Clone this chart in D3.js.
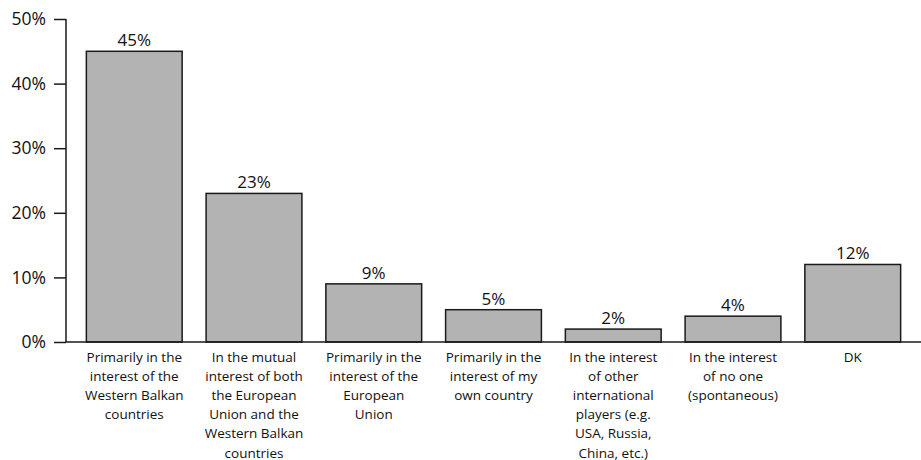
<!DOCTYPE html>
<html>
<head>
<meta charset="utf-8">
<script src="https://cdn.jsdelivr.net/npm/d3@7"></script>
<style>
  body { margin: 0; background: #fff; }
  svg { display: block; font-family: "Open Sans", sans-serif; }
</style>
</head>
<body>
<div id="chart"></div>
<script>
// Data
var categories = [
  ["Primarily in the", "interest of the", "Western Balkan", "countries"],
  ["In the mutual", "interest of both", "the European", "Union and the", "Western Balkan", "countries"],
  ["Primarily in the", "interest of the", "European", "Union"],
  ["Primarily in the", "interest of my", "own country"],
  ["In the interest", "of other", "international", "players (e.g.", "USA, Russia,", "China, etc.)"],
  ["In the interest", "of no one", "(spontaneous)"],
  ["DK"]
];
var values = [45, 23, 9, 5, 2, 4, 12];
var yTicks = [0, 10, 20, 30, 40, 50];

var W = 921, H = 460;
var x0 = 66, x1 = 921, yTop = 19, yBase = 342;

var svg = d3.select("#chart").append("svg")
    .attr("width", W)
    .attr("height", H);

var idx = values.map(function(d, i) { return i; });

var x = d3.scaleBand()
    .domain(idx)
    .range([x0, x1])
    .paddingInner(0.2)
    .paddingOuter(0.17);

var y = d3.scaleLinear()
    .domain([0, 50])
    .range([yBase, yTop]);

// Bars
svg.selectAll(".bar")
    .data(values)
  .enter().append("rect")
    .attr("class", "bar")
    .attr("x", function(d, i) { return x(i); })
    .attr("width", x.bandwidth())
    .attr("y", function(d) { return y(d); })
    .attr("height", function(d) { return yBase - y(d); })
    .attr("fill", "#b3b3b3")
    .attr("stroke", "#1a1a1a")
    .attr("stroke-width", 1.5);

// Value labels
svg.selectAll(".val")
    .data(values)
  .enter().append("text")
    .attr("class", "val")
    .attr("x", function(d, i) { return x(i) + x.bandwidth() / 2; })
    .attr("y", function(d) { return y(d) - 5; })
    .attr("text-anchor", "middle")
    .attr("font-size", 17)
    .attr("fill", "#111")
    .text(function(d) { return d + "%"; });

// y axis
var yAxis = d3.axisLeft(y)
    .tickValues(yTicks)
    .tickSize(12)
    .tickPadding(8)
    .tickFormat(function(d) { return d + "%"; });

var gy = svg.append("g")
    .attr("transform", "translate(" + x0 + ",0)")
    .call(yAxis);
gy.select(".domain").attr("stroke", "#1a1a1a").attr("stroke-width", 1.5)
    .attr("d", "M0," + yTop + "V" + yBase);
gy.selectAll(".tick line").attr("stroke", "#1a1a1a").attr("stroke-width", 1.5);
gy.selectAll(".tick text")
    .attr("font-size", 17.5)
    .attr("font-family", "Open Sans, sans-serif")
    .attr("fill", "#111");

// x axis baseline
svg.append("line")
    .attr("x1", x0).attr("x2", x1)
    .attr("y1", yBase).attr("y2", yBase)
    .attr("stroke", "#1a1a1a")
    .attr("stroke-width", 1.5);

// Category labels
var lab = svg.selectAll(".cat")
    .data(categories)
  .enter().append("text")
    .attr("class", "cat")
    .attr("text-anchor", "middle")
    .attr("font-size", 13.5)
    .attr("fill", "#111")
    .attr("transform", function(d, i) {
      return "translate(" + (x(i) + x.bandwidth() / 2) + "," + 362 + ")";
    });

lab.selectAll("tspan")
    .data(function(d) { return d; })
  .enter().append("tspan")
    .attr("x", 0)
    .attr("y", function(d, j) { return j * 19.1; })
    .text(function(d) { return d; });
</script>
</body>
</html>
